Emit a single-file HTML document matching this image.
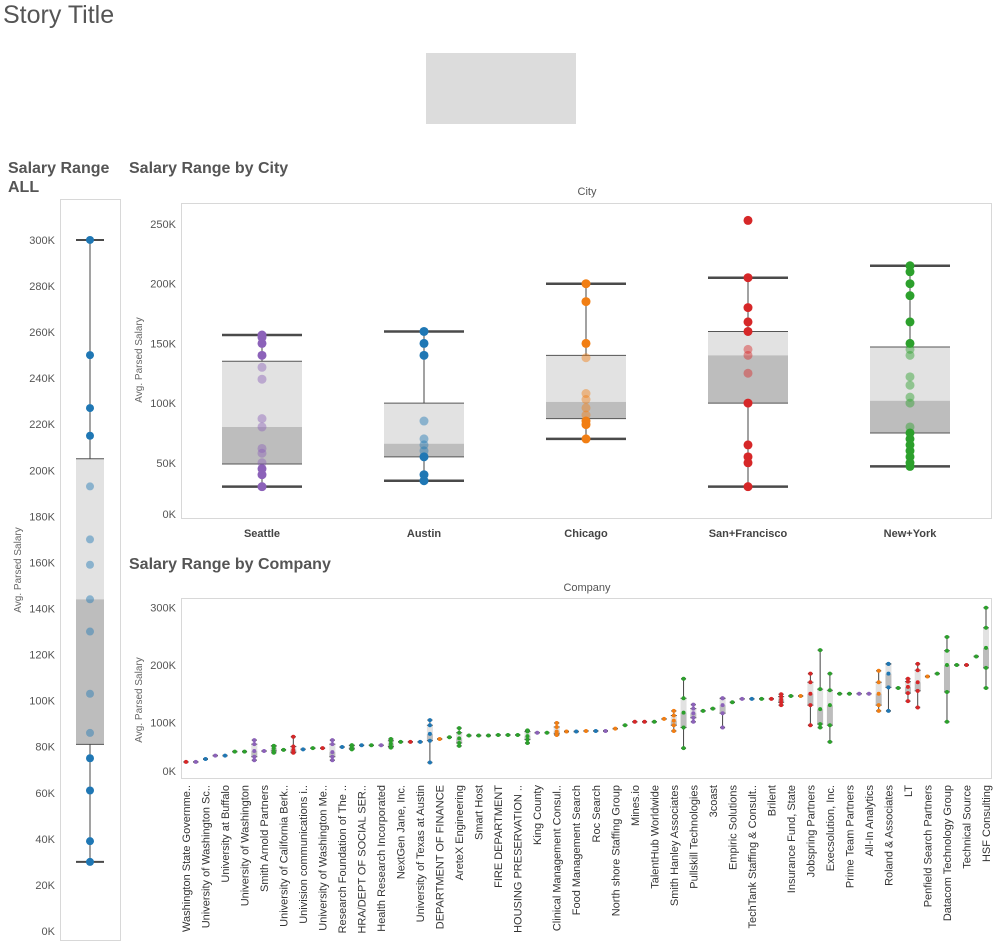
<!DOCTYPE html>
<html><head><meta charset="utf-8"><style>
body{margin:0;background:#fff;width:1000px;height:948px;overflow:hidden;font-family:"Liberation Sans",sans-serif}
svg{display:block}
</style></head><body>
<svg id="s" width="1000" height="948" xmlns="http://www.w3.org/2000/svg" font-family="Liberation Sans, sans-serif">
<text x="3" y="23" font-size="25" fill="#555">Story Title</text>
<rect x="426" y="53" width="150" height="71" fill="#dcdcdc"/>
<text x="8" y="173" font-size="16" font-weight="bold" fill="#555">Salary Range</text>
<text x="8" y="192" font-size="16" font-weight="bold" fill="#555">ALL</text>
<text x="129" y="173" font-size="16" font-weight="bold" fill="#555">Salary Range by City</text>
<text x="129" y="569" font-size="16" font-weight="bold" fill="#555">Salary Range by Company</text>
<text x="587" y="195" font-size="11" fill="#555" text-anchor="middle">City</text>
<text x="587" y="591" font-size="11" fill="#555" text-anchor="middle">Company</text>
<rect x="60.5" y="199.5" width="60" height="741" fill="none" stroke="#d8d8d8"/>
<rect x="181.5" y="203.5" width="810" height="315" fill="none" stroke="#d8d8d8"/>
<rect x="181.5" y="598.5" width="810" height="180" fill="none" stroke="#d8d8d8"/>
<text transform="translate(21,570) rotate(-90)" font-size="10" fill="#666" text-anchor="middle">Avg. Parsed Salary</text>
<text transform="translate(142,360) rotate(-90)" font-size="10" fill="#666" text-anchor="middle">Avg. Parsed Salary</text>
<text transform="translate(142,700) rotate(-90)" font-size="10" fill="#666" text-anchor="middle">Avg. Parsed Salary</text>
<g id="g"></g>
</svg>
<script>
// ALL panel
const allTicks=[0,20,40,60,80,100,120,140,160,180,200,220,240,260,280,300];
const allStats=[30,81,144,205,300];
const allPoints=[300,250,227,215,193,170,159,144,130,103,86,75,61,39,30];
// City chart
const cities=["Seattle","Austin","Chicago","San+Francisco","New+York"];
const cityTicks=[0,50,100,150,200,250];
const cityLow=[30,35,70,30,47];
const cityQ1=[49,55,87,100,75];
const cityMed=[80,66,101,140,102];
const cityQ3=[135,100,140,160,147];
const cityHigh=[157,160,200,205,215];
const cityColors=["#8c62b9","#1f77b4","#f17e13","#d62728","#2ca02c"];
const cityPoints=[
[157,155,150,140,130,120,87,80,62,58,50,45,40,30],
[160,150,140,85,70,65,60,55,40,35],
[200,185,150,138,108,103,96,90,85,82,70],
[253,205,180,168,160,145,140,125,100,65,55,50,30],
[215,210,200,190,168,150,145,140,122,115,105,100,80,75,70,65,60,55,50,47]];
// Company chart
const companyLabels=["Washington State Governme..","University of Washington Sc..","University at Buffalo","University of Washington","Smith Arnold Partners","University of California Berk..","Univision communications i..","University of Washington Me..","Research Foundation of The ..","HRA/DEPT OF SOCIAL SER..","Health Research Incorporated","NextGen Jane, Inc.","University of Texas at Austin","DEPARTMENT OF FINANCE","AreteX Engineering","Smart Host","FIRE DEPARTMENT","HOUSING PRESERVATION ..","King County","Clinical Management Consul..","Food Management Search","Roc Search","North shore Staffing Group","Mines.io","TalentHub Worldwide","Smith Hanley Associates","Pullskill Technologies","3coast","Empiric Solutions","TechTank Staffing & Consult..","Brilent","Insurance Fund, State","Jobspring Partners","Execsolution, Inc.","Prime Team Partners","All-In Analytics","Roland & Associates","LT","Penfield Search Partners","Datacom Technology Group","Technical Source","HSF Consulting"];
const compTicks=[0,100,200,300];
const compLow=[31,31,36,42,42,49,49,34,50,47,52,47,53,55,55,34,57,53,60,60,60,56,66,66,66,30,71,74,59,77,77,77,78,78,78,64,82,82,78,84,84,85,85,85,89,95,101,101,101,106,85,55,101,120,124,91,135,141,141,141,141,130,146,146,95,91,66,150,150,150,150,120,120,160,137,126,180,185,101,200,200,215,160];
const compQ1=[31,31,36,42,42,49,49,40,50,50,52,48,53,55,55,40,57,54,60,60,60,58,66,66,66,68,71,74,64,77,77,77,78,78,78,70,82,82,80,84,84,85,85,85,89,95,101,101,101,106,95,91,108,120,124,116,135,141,141,141,141,135,146,146,130,97,95,150,150,150,150,130,161,160,151,155,180,185,153,200,200,215,195];
const compMed=[31,31,36,42,42,49,49,50,50,55,52,52,53,55,55,48,57,57,60,60,60,63,66,66,66,80,71,74,72,77,77,77,78,78,78,76,82,82,84,84,84,85,85,85,89,95,101,101,101,106,103,117,116,120,124,130,135,141,141,141,141,140,146,146,150,123,130,150,150,150,150,150,185,160,162,170,180,185,200,200,200,215,230];
const compQ3=[31,31,36,42,42,49,49,62,50,59,52,58,53,55,55,62,57,60,60,60,60,68,66,66,66,95,71,74,82,77,77,77,78,78,78,84,82,82,92,84,84,85,85,85,89,95,101,101,101,106,112,142,124,120,124,142,135,141,141,141,141,145,146,146,170,158,156,150,150,150,150,170,202,160,171,191,180,185,225,200,200,215,265];
const compHigh=[31,31,36,42,42,49,49,69,50,59,52,75,53,55,55,69,57,60,60,60,60,71,66,66,66,104,71,74,90,77,77,77,78,78,78,86,82,82,99,84,84,85,85,85,89,95,101,101,101,106,120,176,131,120,124,142,135,141,141,141,141,149,146,146,185,226,185,150,150,150,150,190,202,160,176,202,180,185,249,200,200,215,300];
const compColors="rpbpbggppggrbgrpbgbgpggrbbogggggggggpgoobobpogrrgoogpggpgpbgrrgorggggppobgrrogggr";

const palette={r:"#d62728",p:"#8c62b9",b:"#1f77b4",g:"#2ca02c",o:"#f17e13"};
const NS="http://www.w3.org/2000/svg";
const G=document.getElementById("g");
function mk(tag,attrs,parent){const e=document.createElementNS(NS,tag);for(const k in attrs)e.setAttribute(k,attrs[k]);(parent||G).appendChild(e);return e;}

function drawBox(x,w,lo,q1,med,q3,hi,y,name,capW,capS){
  const g=mk("g",{});
  
  
  if(q3>q1){
    const a=mk("rect",{x:x-w/2,y:y(q3),width:w,height:y(med)-y(q3),fill:"#e2e2e2"},g);
    
    
    const b=mk("rect",{x:x-w/2,y:y(med),width:w,height:y(q1)-y(med),fill:"#bdbdbd"},g);
    
    
    mk("line",{x1:x-w/2,x2:x+w/2,y1:y(q3),y2:y(q3),stroke:"#555","stroke-width":1},g);
    mk("line",{x1:x-w/2,x2:x+w/2,y1:y(q1),y2:y(q1),stroke:"#555","stroke-width":1},g);
  }
  if(hi>lo){
    mk("line",{x1:x,x2:x,y1:y(hi),y2:y(q3),stroke:"#444","stroke-width":1},g);
    mk("line",{x1:x,x2:x,y1:y(q1),y2:y(lo),stroke:"#444","stroke-width":1},g);
  }
  mk("line",{x1:x-capW/2,x2:x+capW/2,y1:y(hi),y2:y(hi),stroke:"#4a4a4a","stroke-width":capS||1.5},g);
  mk("line",{x1:x-capW/2,x2:x+capW/2,y1:y(lo),y2:y(lo),stroke:"#4a4a4a","stroke-width":capS||1.5},g);
  return g;
}

// ALL panel
const yA=v=>931-v*2.3035;
allTicks.forEach(t=>{
  const tx=mk("text",{x:55,y:yA(t)+4,"font-size":11,fill:"#555","text-anchor":"end"});
  tx.textContent=t+"K";
  
  
});
drawBox(90,28,allStats[0],allStats[1],allStats[2],allStats[3],allStats[4],yA,'all-box',28,2);
allPoints.forEach((v,i)=>{
  const c=mk("circle",{cx:90,cy:yA(v),r:4,fill:"#1f77b4","fill-opacity":(v>allStats[1]&&v<allStats[3])?0.45:1});
  
  
});

// City chart
const yC=v=>522.5-v*1.194;
const xC=i=>262+i*162;
cityTicks.forEach(t=>{
  const tx=mk("text",{x:176,y:Math.min(yC(t)+4,518),"font-size":11,fill:"#555","text-anchor":"end"});
  tx.textContent=t+"K";
  
  
});
cities.forEach((c,i)=>{
  const x=xC(i);
  drawBox(x,80,cityLow[i],cityQ1[i],cityMed[i],cityQ3[i],cityHigh[i],yC,'city-box-'+c.toLowerCase().replace('+','-'),80,2.5);
  cityPoints[i].forEach(v=>{
    const inside=v>cityQ1[i]&&v<cityQ3[i];
    const p=mk("circle",{cx:x,cy:yC(v),r:4.5,fill:cityColors[i],"fill-opacity":inside?0.45:1});
    
    
  });
  const lb=mk("text",{x:x,y:537,"font-size":11,"font-weight":"bold",fill:"#444","text-anchor":"middle"});
  lb.textContent=c;
  
  
});

// Company chart
const yP=v=>779.7-v*0.5733;
const xP=i=>186+i*(800/82);
compTicks.forEach(t=>{
  const tx=mk("text",{x:176,y:Math.min(yP(t)+4,775),"font-size":11,fill:"#555","text-anchor":"end"});
  tx.textContent=t+"K";
  
  
});
compLow.forEach((lo,i)=>{
  const x=xP(i);
  const col=palette[compColors[i]]||"#2ca02c";
  drawBox(x,6,lo,compQ1[i],compMed[i],compQ3[i],compHigh[i],yP,'company-box',5);
  const vals=compHigh[i]>lo?[lo,compQ1[i],compMed[i],compQ3[i],compHigh[i]]:[lo];
  vals.forEach(v=>{
    const p=mk("circle",{cx:x,cy:yP(v),r:2,fill:col});
    
    
  });
});
companyLabels.forEach((n,k)=>{
  const x=xP(k*2);
  const tx=mk("text",{transform:`translate(${x+4},785) rotate(-90)`,"font-size":11,fill:"#333","text-anchor":"end"});
  tx.textContent=n;
  
  
});
</script>
</body></html>
